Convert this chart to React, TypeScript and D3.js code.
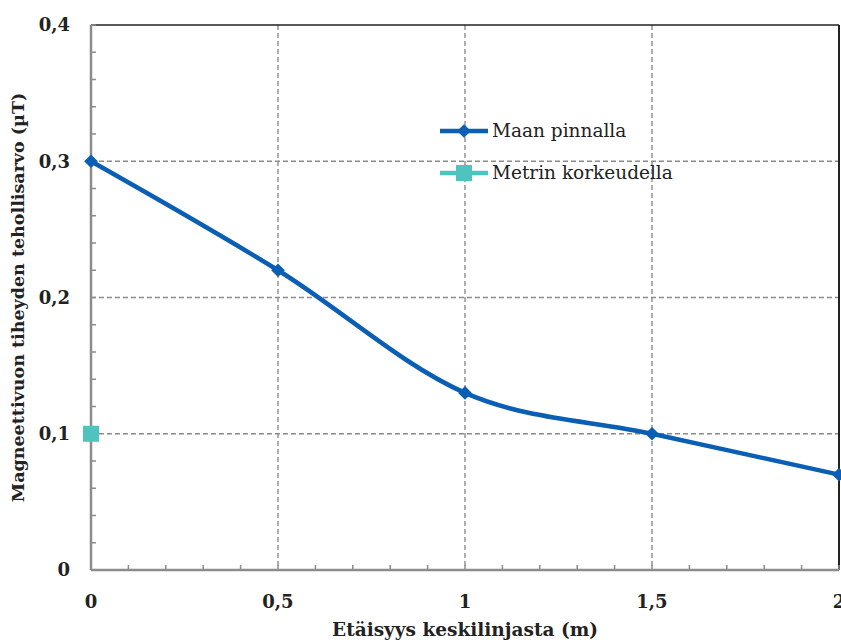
import React from 'react';
import * as d3 from 'd3';

// distance from centre line (m)
const distances = [0, 0.5, 1, 1.5, 2];
// flux density at ground level (µT)
const groundValues = [0.3, 0.22, 0.13, 0.1, 0.07];
// flux density one metre up (µT), only one point measured
const meterDistances = [0];
const meterValues = [0.1];

const xTicks = [0, 0.5, 1, 1.5, 2];
const xTickLabels = ['0', '0,5', '1', '1,5', '2'];
const yTicks = [0, 0.1, 0.2, 0.3, 0.4];
const yTickLabels = ['0', '0,1', '0,2', '0,3', '0,4'];

const seriesNames = ['Maan pinnalla', 'Metrin korkeudella'];
const xTitle = 'Etäisyys keskilinjasta (m)';
const yTitle = 'Magneettivuon tiheyden tehollisarvo (µT)';

const W = 841;
const H = 642;
const margin = { left: 91, right: 2, top: 25, bottom: 72 };
const BLUE = '#0a5fb4';
const TEAL = '#4fc3bd';
const FONT = '"DejaVu Serif", serif';

export default function App() {
  const x = d3.scaleLinear().domain([0, 2]).range([margin.left, W - margin.right]);
  const y = d3.scaleLinear().domain([0, 0.4]).range([H - margin.bottom, margin.top]);

  // Excel-like smoothing (uniform Catmull-Rom)
  const line = d3
    .line<number>()
    .x((_, i) => x(distances[i]))
    .y(d => y(d))
    .curve(d3.curveCardinal.tension(0));

  const diamond = d3.symbol().type(d3.symbolDiamond2).size(120)() || '';

  const minorX = d3.range(0, 2.0001, 0.1);
  const minorY = d3.range(0, 0.4001, 0.02);

  const x0 = x(0), x1 = x(2), yb = y(0), yt = y(0.4);

  return (
    <svg width={W} height={H} style={{ position: 'absolute', left: 0, top: 0, background: '#fff' }}>
      <defs>
        <clipPath id="plot">
          <rect x={x0 - 20} y={yt - 20} width={W} height={yb - yt + 40} />
        </clipPath>
      </defs>
      {/* grid */}
      {xTicks.slice(1, -1).map(t => (
        <line key={'gx' + t} x1={x(t)} x2={x(t)} y1={yt} y2={yb}
          stroke="#8c8c8c" strokeWidth={1.4} strokeDasharray="5,3" />
      ))}
      {yTicks.slice(1, -1).map(t => (
        <line key={'gy' + t} x1={x0} x2={x1} y1={y(t)} y2={y(t)}
          stroke="#8c8c8c" strokeWidth={1.4} strokeDasharray="5,3" />
      ))}
      {/* frame */}
      <line x1={x0} x2={x1} y1={yt} y2={yt} stroke="#222" strokeWidth={1.5} />
      <line x1={x1} x2={x1} y1={yt} y2={yb} stroke="#222" strokeWidth={2} />
      {/* minor ticks */}
      {minorX.map(t => (
        <line key={'mx' + t} x1={x(t)} x2={x(t)} y1={yb} y2={yb - 5} stroke="#8c8c8c" strokeWidth={1.5} />
      ))}
      {minorY.map(t => (
        <line key={'my' + t} x1={x0} x2={x0 + 5} y1={y(t)} y2={y(t)} stroke="#8c8c8c" strokeWidth={1.5} />
      ))}
      <line x1={x0} x2={x0} y1={yt} y2={yb} stroke="#8c8c8c" strokeWidth={2.5} />
      <line x1={x0} x2={x1} y1={yb} y2={yb} stroke="#8c8c8c" strokeWidth={2.5} />
      {/* series */}
      <g clipPath="url(#plot)">
        <path d={line(groundValues) || ''} fill="none" stroke={BLUE} strokeWidth={4.5} />
        {groundValues.map((v, i) => (
          <path key={'d' + i} d={diamond} transform={`translate(${x(distances[i])},${y(v)})`} fill={BLUE} />
        ))}
        {meterValues.map((v, i) => (
          <rect key={'s' + i} x={x(meterDistances[i]) - 8} y={y(v) - 8} width={16} height={16} fill={TEAL} />
        ))}
      </g>
      {/* tick labels */}
      {yTicks.map((t, i) => (
        <text key={'yl' + t} x={70} y={y(t)} dy="0.35em" textAnchor="end"
          fontFamily={FONT} fontWeight="bold" fontSize={18} fill="#222">{yTickLabels[i]}</text>
      ))}
      {xTicks.map((t, i) => (
        <text key={'xl' + t} x={x(t)} y={602} dy="0.35em" textAnchor="middle"
          fontFamily={FONT} fontWeight="bold" fontSize={18} fill="#222">{xTickLabels[i]}</text>
      ))}
      <text x={465} y={630} dy="0.35em" textAnchor="middle" fontFamily={FONT} fontWeight="bold"
        fontSize={18.5} fill="#222">{xTitle}</text>
      <text transform={`translate(18,${(yt + yb) / 2}) rotate(-90)`} dy="0.35em" textAnchor="middle"
        fontFamily={FONT} fontWeight="bold" fontSize={17.5} fill="#222">{yTitle}</text>
      {/* legend */}
      <g>
        <line x1={440} x2={488} y1={131} y2={131} stroke={BLUE} strokeWidth={4.5} />
        <path d={diamond} transform="translate(464,131)" fill={BLUE} />
        <text x={492} y={131} dy="0.35em" fontFamily={FONT} fontSize={18.5} fill="#222">{seriesNames[0]}</text>
        <line x1={440} x2={488} y1={173} y2={173} stroke={TEAL} strokeWidth={4.5} />
        <rect x={456} y={165} width={16} height={16} fill={TEAL} />
        <text x={492} y={173} dy="0.35em" fontFamily={FONT} fontSize={18.5} fill="#222">{seriesNames[1]}</text>
      </g>
    </svg>
  );
}
